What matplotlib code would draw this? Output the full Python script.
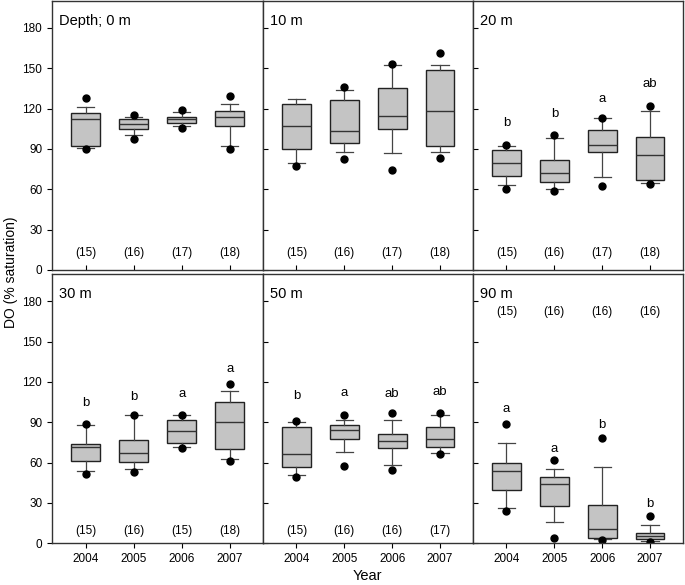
import numpy as np
import matplotlib
matplotlib.use('Agg')
import matplotlib.pyplot as plt

plt.rcParams['font.family'] = ['Liberation Sans', 'DejaVu Sans']

# Dados (DO, % saturação)
years = ['2004', '2005', '2006', '2007']
depths = ['Depth; 0 m', '10 m', '20 m', '30 m', '50 m', '90 m']

p5 = [[89.8, 97.2, 105.3, 89.8],
      [77.4, 82.6, 74.0, 83.6],
      [60.3, 59.1, 62.8, 63.6],
      [51.4, 52.7, 70.9, 61.0],
      [49.4, 57.6, 54.2, 66.2],
      [24.0, 3.7, 2.5, 1.2]]
p10 = [[91.0, 100.4, 106.8, 92.5],
       [79.6, 87.8, 87.3, 87.5],
       [63.3, 60.5, 69.0, 64.5],
       [53.4, 55.6, 71.4, 62.8],
       [50.9, 68.0, 57.9, 67.2],
       [26.2, 16.0, 3.0, 2.0]]
q1 = [[92.0, 104.8, 109.3, 107.3],
      [90.2, 94.7, 105.1, 92.0],
      [70.2, 65.5, 87.8, 67.2],
      [61.0, 60.1, 74.4, 70.2],
      [56.8, 77.6, 70.9, 71.7],
      [39.3, 27.7, 3.7, 3.0]]
med = [[112.0, 108.5, 112.0, 113.7],
       [107.4, 103.3, 114.8, 118.5],
       [79.4, 72.2, 92.7, 85.8],
       [71.7, 66.8, 83.5, 90.2],
       [66.5, 84.0, 75.9, 77.4],
       [53.9, 44.0, 10.4, 5.4]]
q3 = [[116.7, 112.0, 113.7, 118.2],
      [123.4, 126.6, 135.2, 148.6],
      [89.0, 81.8, 104.4, 98.7],
      [73.9, 76.6, 92.0, 105.3],
      [86.3, 88.3, 81.1, 86.5],
      [59.6, 49.0, 28.7, 7.9]]
p90 = [[121.0, 113.7, 117.2, 123.7],
       [126.9, 133.5, 152.6, 152.3],
       [92.0, 98.1, 113.0, 118.5],
       [88.0, 95.2, 95.5, 113.0],
       [90.2, 92.0, 91.5, 95.2],
       [74.4, 55.6, 56.4, 13.3]]
p95 = [[127.8, 115.5, 118.9, 129.3],
       [None, 136.3, 153.3, 161.2],
       [93.0, 100.1, 113.3, 122.2],
       [88.7, 95.7, 95.7, 118.2],
       [91.2, 95.4, 96.7, 96.7],
       [88.5, 61.8, 78.1, 20.5]]

# letras de significância e posição vertical
letters = [None, None,
           ['b', 'b', 'a', 'ab'],
           ['b', 'b', 'a', 'a'],
           ['b', 'a', 'ab', 'ab'],
           ['a', 'a', 'b', 'b']]
letters_y = [None, None,
             [109.5, 116.2, 126.9, 138.5],
             [104.6, 109.0, 110.8, 129.8],
             [109.5, 111.5, 111.0, 112.2],
             [100.1, 70.0, 87.8, 29.2]]

# número de amostras
n_obs = [[15, 16, 17, 18],
         [15, 16, 17, 18],
         [15, 16, 17, 18],
         [15, 16, 15, 18],
         [15, 16, 16, 17],
         [15, 16, 16, 16]]
n_y = [13, 13, 13, 9, 9, 171.6]

fig = plt.figure(figsize=(6.85, 5.85), dpi=100)

lefts = [52 / 685, 263 / 685, 473 / 685]
widths = [211 / 685, 210 / 685, 210 / 685]
bottoms = [1 - 270 / 585, 1 - 543.3 / 585]
height = 269 / 585

pos = np.arange(1, 5)
for k in range(6):
    row, col = divmod(k, 3)
    ax = fig.add_axes([lefts[col], bottoms[row], widths[col], height])

    stats = []
    for j in range(4):
        fl = [v for v in (p5[k][j], p95[k][j]) if v is not None]
        stats.append(dict(whislo=p10[k][j], q1=q1[k][j], med=med[k][j],
                          q3=q3[k][j], whishi=p90[k][j], fliers=fl))
    ax.bxp(stats, positions=pos, widths=0.6, capwidths=0.36, patch_artist=True,
           boxprops=dict(facecolor='#c4c4c4', edgecolor='#222222', linewidth=1.0),
           medianprops=dict(color='#333333', linewidth=1.0),
           whiskerprops=dict(color='#444444', linewidth=0.9),
           capprops=dict(color='#444444', linewidth=0.9),
           flierprops=dict(marker='o', markerfacecolor='black', markeredgecolor='black',
                           markersize=5, linestyle='none'))

    for j in range(4):
        ax.text(pos[j], n_y[k], '(%d)' % n_obs[k][j], ha='center', va='center', fontsize=8.5)
        if letters[k] is not None:
            ax.text(pos[j], letters_y[k][j], letters[k][j], ha='center', va='center', fontsize=9.5)

    ax.text(0.035, 0.925, depths[k], transform=ax.transAxes, ha='left', va='center', fontsize=10.5)

    ax.set_xlim(0.3, 4.69)
    ax.set_ylim(0, 200)
    ax.set_yticks(np.arange(0, 181, 30))
    ax.set_xticks(pos)

    for s in ax.spines.values():
        s.set_color('#333333')
        s.set_linewidth(1.0)

    if col == 0:
        ax.tick_params(axis='y', direction='out', length=3.5, labelsize=8.5, width=0.8)
    else:
        ax.tick_params(axis='y', direction='in', length=3.5, labelleft=False, width=0.8)

    if row == 1:
        ax.set_xticklabels(years)
        ax.tick_params(axis='x', direction='out', length=3.5, labelsize=8.5, width=0.8)
    else:
        ax.tick_params(axis='x', direction='in', length=3.5, labelbottom=False, width=0.8)

fig.text(11 / 685, 1 - 272 / 585, 'DO (% saturation)', rotation=90, ha='center', va='center', fontsize=10)
fig.text(367 / 685, 1 - 576 / 585, 'Year', ha='center', va='center', fontsize=10.5)

plt.savefig('out.png', dpi=100)
